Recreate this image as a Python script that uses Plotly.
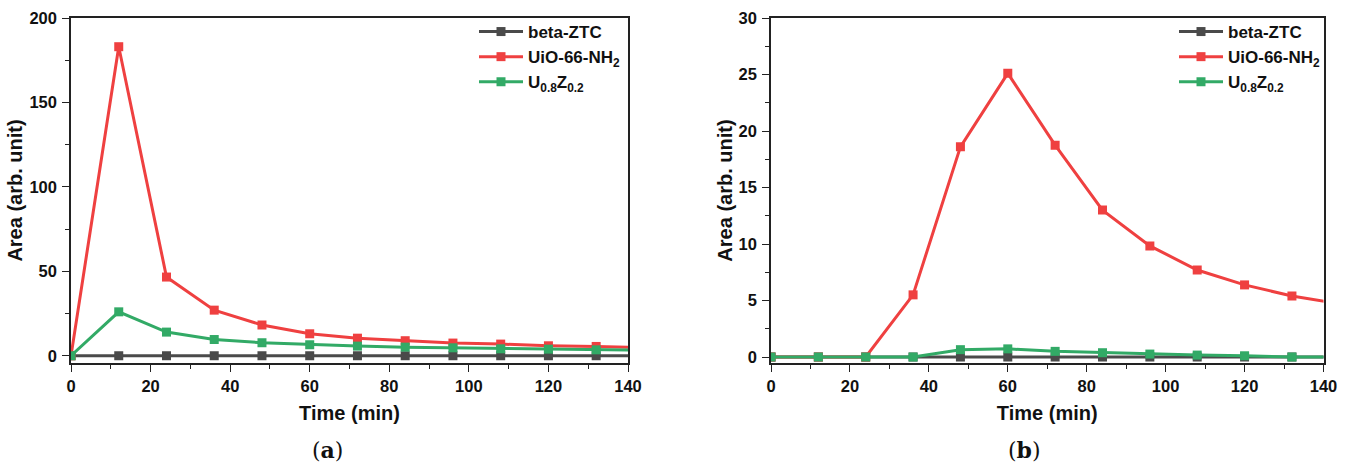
import plotly.graph_objects as go

# ---- data ----
time_min = [0, 12, 24, 36, 48, 60, 72, 84, 96, 108, 120, 132, 144]

a_beta_ztc = [0, 0, 0, 0, 0, 0, 0, 0, 0, 0, 0, 0, 0]
a_uio66_nh2 = [0, 183, 46.6, 27, 18.2, 13, 10.4, 8.9, 7.5, 6.9, 5.9, 5.5, 4.8]
a_u08z02 = [0, 26, 14, 9.6, 7.7, 6.5, 5.7, 5.1, 4.7, 4.1, 3.9, 3.5, 3.2]

b_beta_ztc = [0, 0, 0, 0, 0, 0, 0, 0, 0, 0, 0, 0, 0]
b_uio66_nh2 = [0, 0, 0, 5.5, 18.6, 25.1, 18.75, 13.0, 9.83, 7.7, 6.38, 5.4, 4.7]
b_u08z02 = [0, 0, 0, 0, 0.65, 0.72, 0.5, 0.38, 0.26, 0.17, 0.11, 0, 0]

series_names = ["beta-ZTC", "UiO-66-NH<sub>2</sub>", "U<sub>0.8</sub>Z<sub>0.2</sub>"]
series_colors = ["#4a4a4a", "#ef4040", "#32aa66"]

x_ticks = [0, 20, 40, 60, 80, 100, 120, 140]
a_y_ticks = [0, 50, 100, 150, 200]
b_y_ticks = [0, 5, 10, 15, 20, 25, 30]
panel_labels = ["(<b>a</b>)", "(<b>b</b>)"]

FONT = "Arial, 'Liberation Sans', sans-serif"

fig = go.Figure()

panels = [
    ("x", "y", "legend", [a_beta_ztc, a_uio66_nh2, a_u08z02]),
    ("x2", "y2", "legend2", [b_beta_ztc, b_uio66_nh2, b_u08z02]),
]
for xa, ya, lg, ys in panels:
    for name, color, vals in zip(series_names, series_colors, ys):
        fig.add_trace(go.Scatter(
            x=time_min, y=vals, name=name, mode="lines+markers",
            line=dict(color=color, width=3),
            marker=dict(symbol="square", size=9, color=color),
            xaxis=xa, yaxis=ya, legend=lg, cliponaxis=True,
        ))

axis_common = dict(
    showline=True, linecolor="#222222", linewidth=1.5, mirror=True,
    ticks="outside", ticklen=7, tickwidth=1.2, tickcolor="#222222",
    showgrid=False, zeroline=False, automargin=False,
    tickfont=dict(family=FONT, size=16.5, color="#111111", weight="bold"),
)
title_font = dict(family=FONT, size=20, color="#111111", weight="bold")

x_domain_a = [71 / 1348, 628 / 1348]
x_domain_b = [771 / 1348, 1323.5 / 1348]
y_domain = [103 / 466, 448 / 466]

x_common = dict(range=[0, 140], tickvals=x_ticks,
                ticklabelposition="outside", ticklabelstandoff=0,
                minor=dict(ticks="outside", ticklen=4, dtick=10, tick0=0, tickcolor="#222222"),
                title=dict(text="Time (min)", font=title_font, standoff=12))

fig.update_layout(
    width=1348, height=466,
    margin=dict(l=0, r=0, t=0, b=0, autoexpand=False),
    paper_bgcolor="white", plot_bgcolor="white",
    xaxis=dict(domain=x_domain_a, anchor="y", **x_common, **axis_common),
    yaxis=dict(domain=y_domain, anchor="x", range=[-4.3, 200], tickvals=a_y_ticks, ticklabelstandoff=2,
               minor=dict(ticks="outside", ticklen=4, dtick=25, tick0=0, tickcolor="#222222"),
               title=dict(text="Area (arb. unit)", font=title_font, standoff=1), **axis_common),
    xaxis2=dict(domain=x_domain_b, anchor="y2", **x_common, **axis_common),
    yaxis2=dict(domain=y_domain, anchor="x2", range=[-0.53, 30], tickvals=b_y_ticks, ticklabelstandoff=2,
                minor=dict(ticks="outside", ticklen=4, dtick=2.5, tick0=0, tickcolor="#222222"),
                title=dict(text="Area (arb. unit)", font=title_font, standoff=1), **axis_common),
    legend=dict(x=474 / 1348, y=1 - 14 / 466, xanchor="left", yanchor="top",
                bgcolor="rgba(0,0,0,0)", tracegroupgap=0, itemwidth=44,
                font=dict(family=FONT, size=17, color="#111111", weight="bold")),
    legend2=dict(x=1174 / 1348, y=1 - 14 / 466, xanchor="left", yanchor="top",
                 bgcolor="rgba(0,0,0,0)", tracegroupgap=0, itemwidth=44,
                 font=dict(family=FONT, size=17, color="#111111", weight="bold")),
    annotations=[
        dict(text=panel_labels[0], x=327 / 1348, y=1 - 450 / 466, xref="paper", yref="paper",
             xanchor="center", yanchor="middle", showarrow=False,
             font=dict(family="'DejaVu Serif', 'Liberation Serif', serif", size=22, color="#111111")),
        dict(text=panel_labels[1], x=1024 / 1348, y=1 - 450 / 466, xref="paper", yref="paper",
             xanchor="center", yanchor="middle", showarrow=False,
             font=dict(family="'DejaVu Serif', 'Liberation Serif', serif", size=22, color="#111111")),
    ],
)

fig.write_html("out.html")
